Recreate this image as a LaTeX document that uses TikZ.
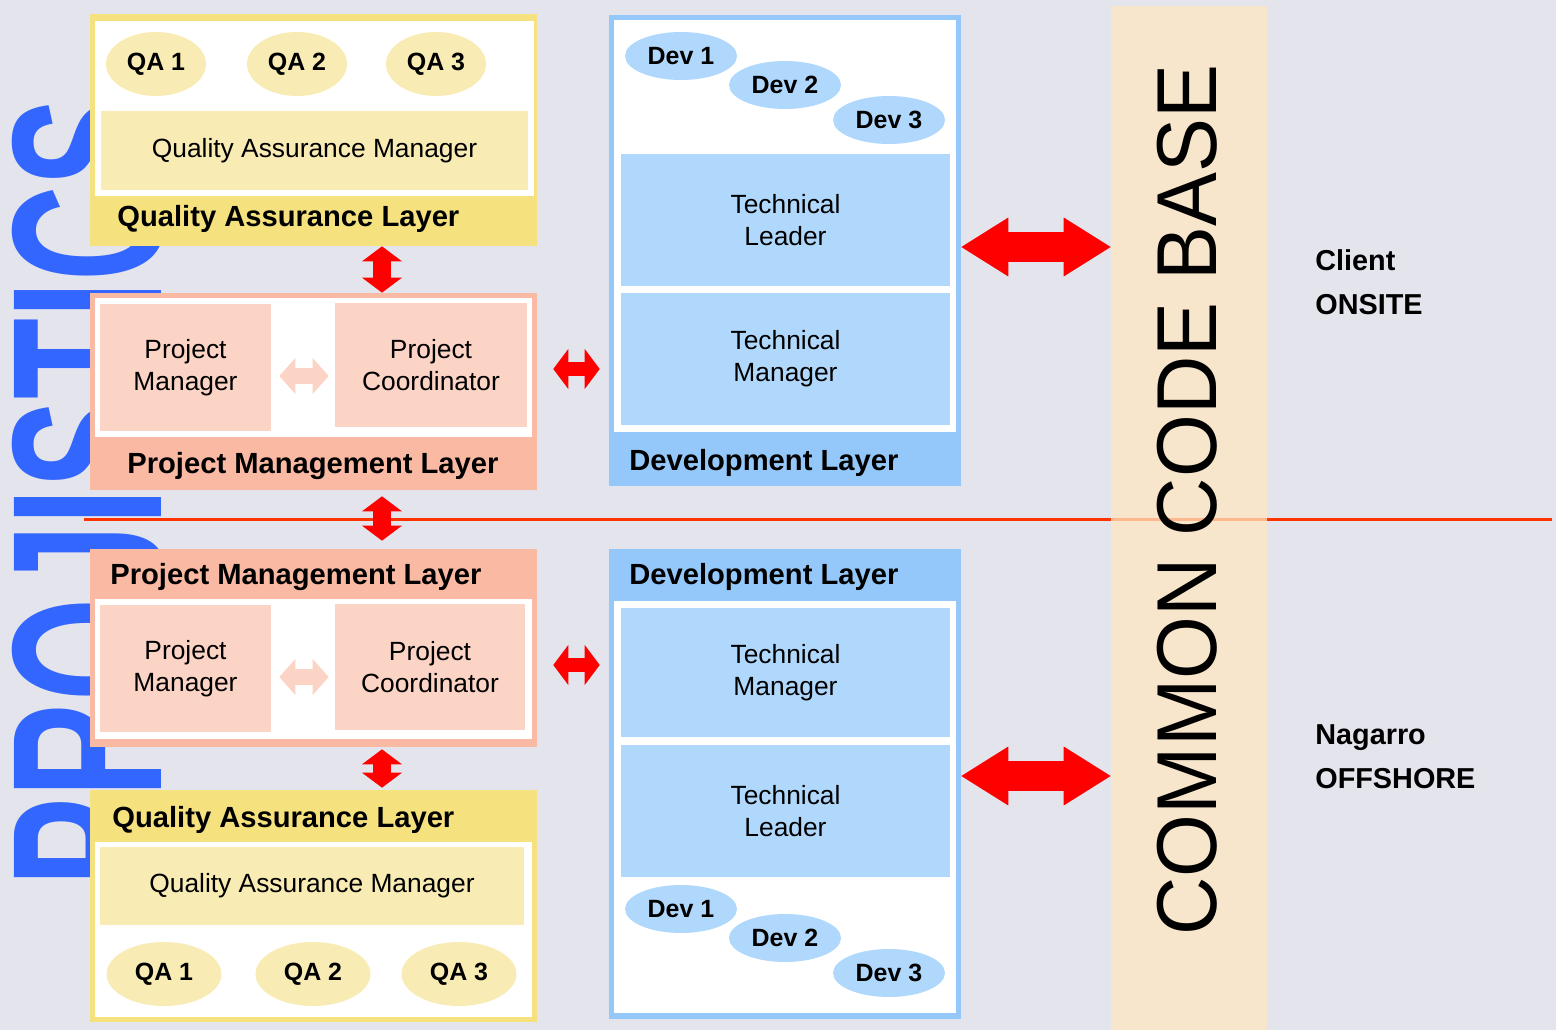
\documentclass[tikz,border=0pt]{standalone}
\usepackage{graphicx}
\usepackage{fontspec}
\setmainfont{Liberation Sans}
\usetikzlibrary{arrows.meta,shapes.geometric}

\definecolor{bg}{RGB}{228,228,237}
\definecolor{projblue}{RGB}{51,102,255}
\definecolor{sepred}{RGB}{255,51,0}
\definecolor{codecream}{RGB}{254,231,192}
\definecolor{qadark}{RGB}{245,225,125}
\definecolor{qalight}{RGB}{248,236,180}
\definecolor{pmdark}{RGB}{250,185,163}
\definecolor{pmlight}{RGB}{251,212,198}
\definecolor{devdark}{RGB}{148,200,250}
\definecolor{devlight}{RGB}{176,216,252}
\definecolor{arrowred}{RGB}{255,0,0}

\tikzset{
  vtip/.tip={Triangle[width=0.8cm,length=0.3cm,line width=0pt]},
  stip/.tip={Triangle[width=0.8cm,length=0.3cm,line width=0pt]},
  btip/.tip={Triangle[width=1.18cm,length=0.94cm,line width=0pt]},
  ltip/.tip={Triangle[width=0.72cm,length=0.32cm,line width=0pt]},
  qaouter/.style={fill=qadark, inner sep=0pt, minimum width=8.94cm, minimum height=4.64cm},
  pmouter/.style={fill=pmdark, inner sep=0pt, minimum width=8.94cm},
  devouter/.style={fill=devdark, inner sep=0pt, minimum width=7.04cm},
  box/.style={inner sep=0pt, align=center, font=\fontsize{15}{18.1}\selectfont},
  qabox/.style={box, fill=qalight},
  pmbox/.style={box, fill=pmlight},
  devbox/.style={box, fill=devlight, minimum width=6.58cm},
  member/.style={ellipse, inner sep=0pt, font=\fontsize{14.2}{17}\selectfont\bfseries},
  qa/.style={member, fill=qalight, minimum height=1.28cm},
  dev/.style={member, fill=devlight, minimum width=2.24cm, minimum height=0.96cm},
  layertitle/.style={anchor=west, inner sep=0pt, font=\fontsize{16.6}{20}\selectfont\bfseries},
  site/.style={anchor=west, inner sep=0pt, align=left, font=\fontsize{16.4}{25}\selectfont\bfseries},
  vlink/.style={draw=arrowred, line width=0.36cm, arrows=vtip-vtip},
  slink/.style={draw=arrowred, line width=0.28cm, arrows=stip-stip},
  blink/.style={draw=arrowred, line width=0.6cm, arrows=btip-btip},
  llink/.style={draw=pmlight, line width=0.32cm, arrows=ltip-ltip}
}

\begin{document}
\begin{tikzpicture}[x=0.02cm, y=-0.02cm]
  \useasboundingbox (0,0) rectangle (1556,1030);
  \fill[bg] (0,0) rectangle (1556,1030);

  % word behind the layers
  \node[rotate=90, inner sep=0pt, text=projblue] (word) at (88,492)
    {\fontsize{121.7}{121.7}\selectfont\bfseries\scalebox{0.62}[1]{PROJISTICS}};

  % onsite / offshore border
  \draw[sepred, line width=0.06cm] (84,519.5) -- (1552,519.5);

  % code base column
  \node[fill=codecream, fill opacity=0.74, inner sep=0pt, minimum width=3.12cm, minimum height=20.48cm] (code) at (1189,518) {};
  \node[rotate=90, inner sep=0pt] (codetext) at (1187,500)
    {\fontsize{48.4}{48.4}\selectfont\scalebox{0.95}[1]{COMMON CODE BASE}};

  % onsite: quality assurance
  \node[qaouter] (qaT) at (313.5,130) {};
  \fill[white] (95,21) rectangle (534,196);
  \node[qabox, minimum width=8.54cm, minimum height=1.58cm] (qamT) at (314.5,150.5) {Quality Assurance Manager};
  \node[qa, minimum width=2cm] (qa1T) at (156,64) {QA 1};
  \node[qa, minimum width=2cm] (qa2T) at (297,64) {QA 2};
  \node[qa, minimum width=2cm] (qa3T) at (436,64) {QA 3};
  \node[layertitle] (qaTitleT) at (117,219) {Quality Assurance Layer};

  % onsite: project management
  \node[pmouter, minimum height=3.94cm] (pmT) at (313.5,391.5) {};
  \fill[white] (95,298) rectangle (532,437);
  \node[pmbox, minimum width=3.42cm, minimum height=2.54cm] (pmgrT) at (185.5,367.5) {Project\\Manager};
  \node[pmbox, minimum width=3.84cm, minimum height=2.48cm] (pcoT) at (431,365) {Project\\Coordinator};
  \node[layertitle] (pmTitleT) at (127,466) {Project Management Layer};

  % onsite: development
  \node[devouter, minimum height=9.42cm] (devT) at (785,250.5) {};
  \fill[white] (614,20) rectangle (956,432);
  \node[dev] (dev1T) at (681,56) {Dev 1};
  \node[dev] (dev2T) at (785,85) {Dev 2};
  \node[dev] (dev3T) at (889,120) {Dev 3};
  \node[devbox, minimum height=2.64cm] (tlT) at (785.5,220) {Technical\\Leader};
  \node[devbox, minimum height=2.64cm] (tmT) at (785.5,359) {Technical\\Manager};
  \node[layertitle] (devTitleT) at (629,463) {Development Layer};

  % offshore: project management
  \node[pmouter, minimum height=3.96cm] (pmB) at (313.5,648) {};
  \fill[white] (95,599) rectangle (532,739);
  \node[pmbox, minimum width=3.42cm, minimum height=2.54cm] (pmgrB) at (185.5,668.5) {Project\\Manager};
  \node[pmbox, minimum width=3.8cm, minimum height=2.52cm] (pcoB) at (430,667) {Project\\Coordinator};
  \node[layertitle] (pmTitleB) at (110,577) {Project Management Layer};

  % offshore: quality assurance
  \node[qaouter] (qaB) at (313.5,906) {};
  \fill[white] (95,842) rectangle (532,1017);
  \node[qabox, minimum width=8.48cm, minimum height=1.56cm] (qamB) at (312,886) {Quality Assurance Manager};
  \node[qa, minimum width=2.3cm] (qa1B) at (164,974) {QA 1};
  \node[qa, minimum width=2.3cm] (qa2B) at (313,974) {QA 2};
  \node[qa, minimum width=2.3cm] (qa3B) at (459,974) {QA 3};
  \node[layertitle] (qaTitleB) at (112,820) {Quality Assurance Layer};

  % offshore: development
  \node[devouter, minimum height=9.4cm] (devB) at (785,784) {};
  \fill[white] (614,601) rectangle (956,1013);
  \node[devbox, minimum height=2.58cm] (tmB) at (785.5,672.5) {Technical\\Manager};
  \node[devbox, minimum height=2.64cm] (tlB) at (785.5,811) {Technical\\Leader};
  \node[dev] (dev1B) at (681,909) {Dev 1};
  \node[dev] (dev2B) at (785,938) {Dev 2};
  \node[dev] (dev3B) at (889,973) {Dev 3};
  \node[layertitle] (devTitleB) at (629,577) {Development Layer};

  % sites
  \node[site] (onsite) at (1315,282) {Client\\ONSITE};
  \node[site] (offshore) at (1315,757) {Nagarro\\OFFSHORE};

  % links
  \coordinate (vx) at (382,0);
  \coordinate (ry1) at (0,369);
  \coordinate (ry2) at (0,665);
  \coordinate (by1) at (0,247);
  \coordinate (by2) at (0,776);
  \coordinate (ly1) at (0,376);
  \coordinate (ly2) at (0,677);

  \draw[vlink] (qaT.south -| vx) -- (pmT.north -| vx);
  \draw[vlink, shorten <=0.12cm, shorten >=0.16cm] (pmT.south -| vx) -- (pmB.north -| vx);
  \draw[vlink, shorten <=0.04cm, shorten >=0.04cm] (pmB.south -| vx) -- (qaB.north -| vx);

  \draw[slink, shorten <=0.32cm, shorten >=0.18cm] (pmT.east |- ry1) -- (devT.west |- ry1);
  \draw[slink, shorten <=0.32cm, shorten >=0.18cm] (pmB.east |- ry2) -- (devB.west |- ry2);

  \draw[blink] (devT.east |- by1) -- (code.west |- by1);
  \draw[blink] (devB.east |- by2) -- (code.west |- by2);

  \draw[llink, shorten <=0.16cm, shorten >=0.12cm] (pmgrT.east |- ly1) -- (pcoT.west |- ly1);
  \draw[llink, shorten <=0.16cm, shorten >=0.12cm] (pmgrB.east |- ly2) -- (pcoB.west |- ly2);
\end{tikzpicture}
\end{document}
